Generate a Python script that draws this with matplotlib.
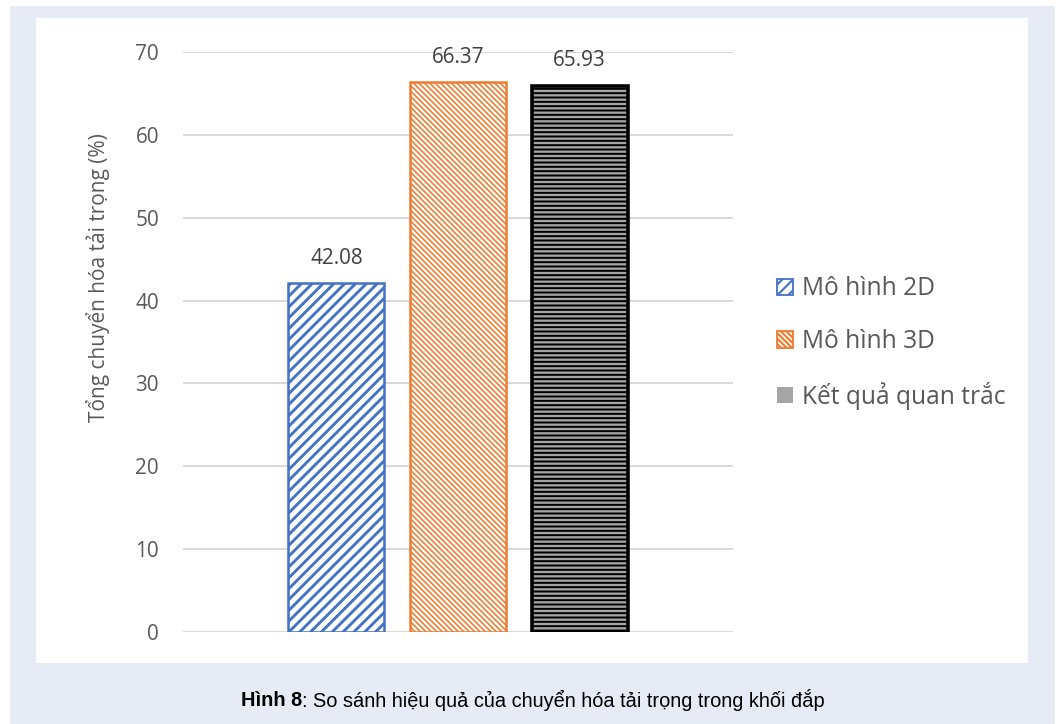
import matplotlib
matplotlib.use("Agg")
import matplotlib as mpl
import matplotlib.pyplot as plt
from matplotlib.patches import Patch, Rectangle

# ---- data ----
series_names = ["Mô hình 2D", "Mô hình 3D", "Kết quả quan trắc"]
values = [42.08, 66.37, 65.93]
y_ticks = [0, 10, 20, 30, 40, 50, 60, 70]
y_label = "Tổng chuyển hóa tải trọng (%)"
caption_bold = "Hình 8"
caption_rest = ": So sánh hiệu quả của chuyển hóa tải trọng trong khối đắp"

# ---- styling ----
DPI = 130
W, H = 1058, 724
CHART_FONT = ["Open Sans", "DejaVu Sans"]
CAPTION_FONT = ["Liberation Sans Narrow", "Liberation Sans", "DejaVu Sans"]
plt.rcParams["font.family"] = CHART_FONT

bar_styles = [
    dict(face="white", edge="#4472C4", hatch="////", lw=1.4, hlw=1.6),
    dict(face="white", edge="#ED7D31", hatch="\\" * 8, lw=1.4, hlw=0.9),
    dict(face="#A5A5A5", edge="black", hatch="-" * 5, lw=2.0, hlw=1.1),
]
legend_styles = [
    dict(facecolor="white", edgecolor="#4472C4", hatch="////"),
    dict(facecolor="white", edgecolor="#ED7D31", hatch="\\" * 8),
    dict(facecolor="#A5A5A5", edgecolor="none"),
]

fig = plt.figure(figsize=(W / DPI, H / DPI), dpi=DPI)
fig.patch.set_facecolor("white")


def px_box(x0, y0, x1, y1, color):
    """Filled rectangle given in pixel coordinates measured from the top-left."""
    fig.add_artist(Rectangle((x0 / W, 1 - y1 / H), (x1 - x0) / W, (y1 - y0) / H,
                             transform=fig.transFigure, facecolor=color,
                             edgecolor="none", zorder=-10))


# page frame: tinted band with a white chart panel inside
px_box(10, 6, 1055, 724, "#E7EBF6")
px_box(36, 18, 1028, 663, "white")

ax = fig.add_axes([183 / W, 1 - 632 / H, 550 / W, 580 / H])
ax.set_facecolor("none")

positions = list(range(len(values)))
bar_width = 0.79
for pos, val, name, st in zip(positions, values, series_names, bar_styles):
    with mpl.rc_context({"hatch.linewidth": st["hlw"]}):
        cont = ax.bar(pos, val, width=bar_width, facecolor=st["face"],
                      edgecolor=st["edge"], hatch=st["hatch"],
                      linewidth=st["lw"], label=name, zorder=3)
    for p in cont.patches:
        if hasattr(p, "set_hatch_linewidth"):
            p.set_hatch_linewidth(st["hlw"])
    ax.bar_label(cont, labels=[f"{val:.2f}"], padding=8, fontsize=11.5,
                 color="#404040")

ax.set_ylim(0, 70)
ax.set_xlim(-1.263, 3.263)
ax.set_yticks(y_ticks)
ax.set_xticks([])
ax.tick_params(axis="y", length=0, pad=13.3, labelsize=11.5, labelcolor="#595959")
for s in ax.spines.values():
    s.set_visible(False)
ax.yaxis.grid(True, color="#D9D9D9", linewidth=1.1)
ax.set_axisbelow(True)

ax.set_ylabel(y_label, fontsize=11.6, color="#595959")
ax.yaxis.set_label_coords((110 - 183) / 550, 0.611)

handles = [Patch(label=n, **st) for n, st in zip(series_names, legend_styles)]
with mpl.rc_context({"hatch.linewidth": 1.2}):
    leg = fig.legend(handles=handles, loc="center left",
                     bbox_to_anchor=(777 / W, 1 - 343 / H),
                     frameon=False, fontsize=13.6, labelcolor="#595959",
                     handlelength=0.66, handleheight=0.66, handletextpad=0.35,
                     labelspacing=1.12, borderpad=0, borderaxespad=0)

# caption: bold figure number followed by regular text, centred as one line
cap_y = 1 - 700 / H
t1 = fig.text(0, cap_y, caption_bold, fontsize=11.1, weight="bold",
              family=CAPTION_FONT, va="center", color="black")
t2 = fig.text(0, cap_y, caption_rest, fontsize=11.1, family=CAPTION_FONT,
              va="center", color="black")
fig.canvas.draw()
r = fig.canvas.get_renderer()
w1 = t1.get_window_extent(r).width
w2 = t2.get_window_extent(r).width
x0 = 532.5 - (w1 + w2) / 2
t1.set_x(x0 / W)
t2.set_x((x0 + w1) / W)

fig.savefig("out.png", dpi=DPI)
